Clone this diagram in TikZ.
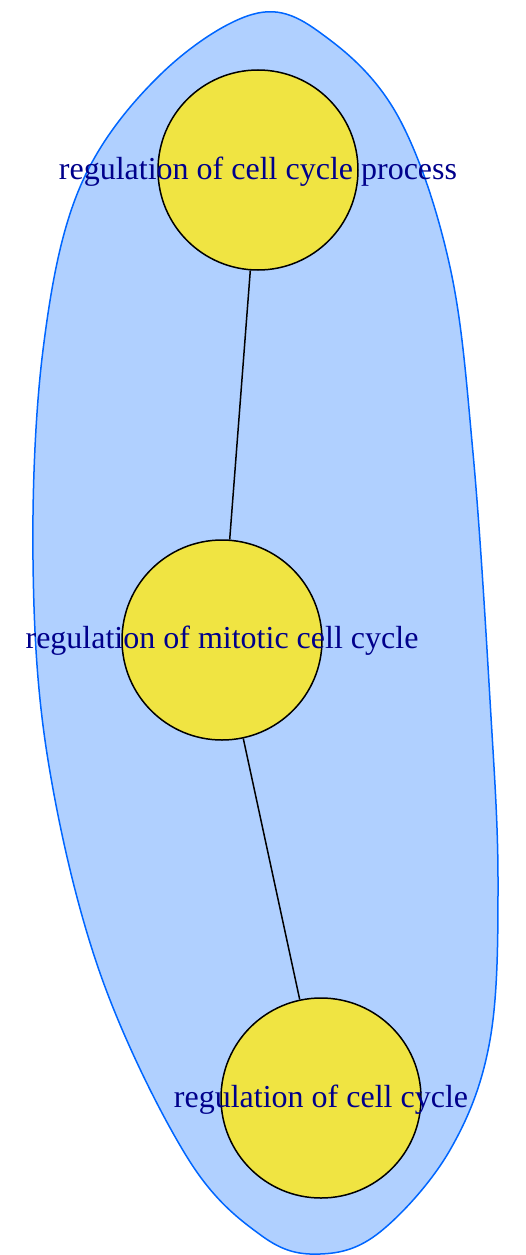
\documentclass[tikz,border=0pt]{standalone}
\usepackage{fontspec}
\setmainfont{Liberation Serif}
\definecolor{blobfill}{RGB}{176,208,255}
\definecolor{blobline}{RGB}{0,102,255}
\definecolor{nodefill}{RGB}{240,228,66}
\definecolor{labelcol}{RGB}{0,0,139}
\tikzset{
  term/.style={circle, draw=black, line width=1.5pt, fill=nodefill, minimum size=200pt, inner sep=0pt},
  termlabel/.style={text=labelcol, font=\fontsize{32}{36}\selectfont, inner sep=0pt},
  edgeline/.style={draw=black, line width=1.5pt},
  blob/.style={fill=blobfill, draw=blobline, line width=1.5pt}
}
\begin{document}
\begin{tikzpicture}[x=1pt,y=-1pt]
\useasboundingbox (0,0) rectangle (526,1255);
\draw[blob] plot[smooth cycle, tension=0.6] coordinates {
  (258,13) (160,75) (80,187) (43,350) (33,560) (48,760) (100,973) (187,1157) (262,1236) (320,1254)
  (380,1232) (450,1150) (490,1040) (498,880) (490,700) (473,453) (450,267) (400,120) (330,40)
};
\node[term] (a) at (258,170) {};
\node[term] (b) at (222,640) {};
\node[term] (c) at (321,1098) {};
\draw[edgeline] (a) -- (b);
\draw[edgeline] (b) -- (c);
\node[termlabel] (la) at (258,172) {regulation of cell cycle process};
\node[termlabel] (lb) at (222,641) {regulation of mitotic cell cycle};
\node[termlabel] (lc) at (321,1100) {regulation of cell cycle};
\end{tikzpicture}
\end{document}
